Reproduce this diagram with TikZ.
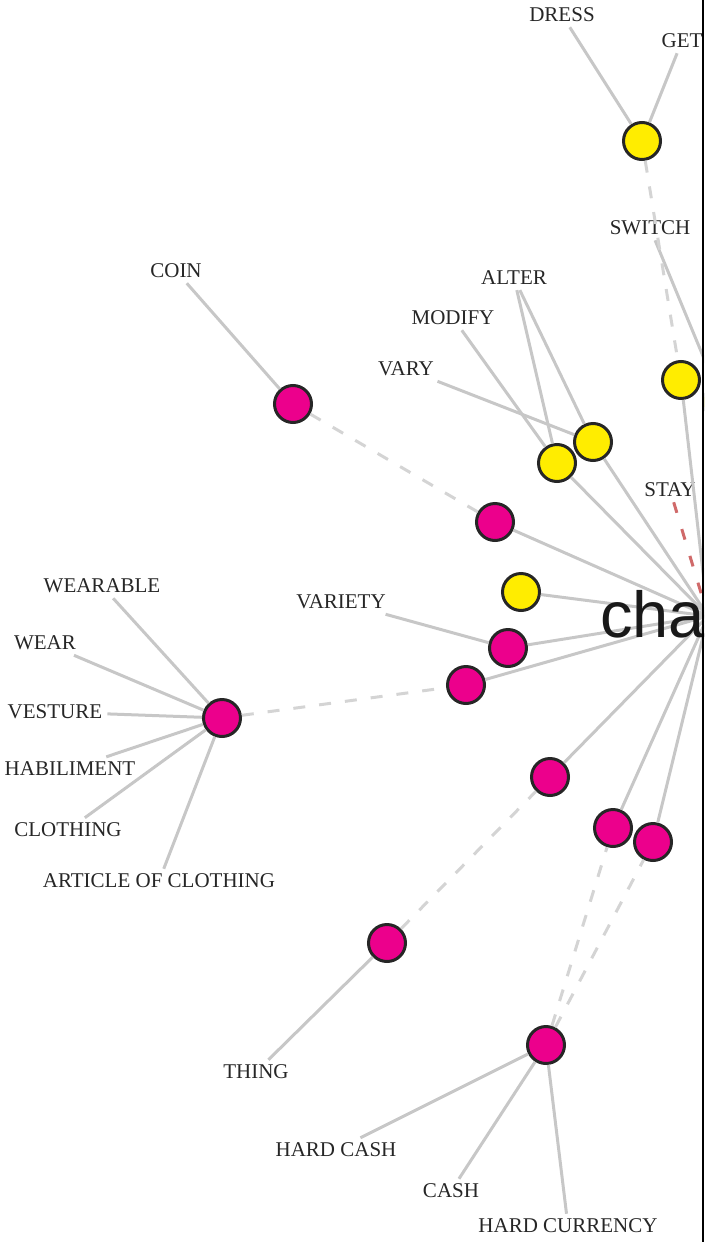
\documentclass[tikz,border=0pt]{standalone}
\usepackage{fontspec}
\setmainfont{Liberation Serif}
\newfontfamily\hubfont{Liberation Sans}
\definecolor{synyellow}{HTML}{FFED00}
\definecolor{synmagenta}{HTML}{EC008C}
\definecolor{antred}{HTML}{D06A6A}
\begin{document}
\begin{tikzpicture}[x=1pt, y=-1pt,
  word/.style={font=\fontsize{21}{21}\selectfont, text=black!85, inner sep=5pt},
  syn/.style={circle, draw=black!85, line width=3pt, minimum size=37pt, inner sep=0pt},
  yel/.style={syn, fill=synyellow},
  mag/.style={syn, fill=synmagenta},
  edge/.style={draw=black!22, line width=3pt},
  hyp/.style={draw=black!17, line width=3pt, dash pattern=on 12pt off 14pt},
  ant/.style={draw=antred, line width=3pt, dash pattern=on 11pt off 17pt}]
  \useasboundingbox (0,0) rectangle (704,1242);
  \clip (0,0) rectangle (704,1242);

  % words
  \node[word] (dress)   at (562,15)   {DRESS};
  \node[word] (get)     at (682,41)   {GET};
  \node[word] (switch)  at (650,228)  {SWITCH};
  \node[word] (coin)    at (176,271)  {COIN};
  \node[word] (alter)   at (514,278)  {ALTER};
  \node[word] (modify)  at (453,318)  {MODIFY};
  \node[word] (vary)    at (406,369)  {VARY};
  \node[word] (stay)    at (670,490)  {STAY};
  \node[word] (wearable) at (102,586) {WEARABLE};
  \node[word] (variety) at (341,602)  {VARIETY};
  \node[word] (wear)    at (45,643)   {WEAR};
  \node[word] (vesture) at (55,712)   {VESTURE};
  \node[word] (habil)   at (70,769)   {HABILIMENT};
  \node[word] (clothing) at (68,830)  {CLOTHING};
  \node[word] (article) at (159,881)  {ARTICLE OF CLOTHING};
  \node[word] (thing)   at (256,1072) {THING};
  \node[word] (hcash)   at (336,1150) {HARD CASH};
  \node[word] (cash)    at (451,1191) {CASH};
  \node[word] (hcurr)   at (568,1226) {HARD CURRENCY};

  % synsets
  \coordinate (H) at (708,616);
  \node[yel] (Y1) at (642,141) {};
  \node[yel] (Y2) at (681,380) {};
  \node[yel] (Y6) at (722,402) {};
  \node[yel] (Y3) at (557,463) {};
  \node[yel] (Y4) at (593,442) {};
  \node[yel] (Y5) at (521,592) {};
  \node[mag] (Mcoin)  at (293,404) {};
  \node[mag] (M1)     at (495,522) {};
  \node[mag] (Mvar)   at (508,648) {};
  \node[mag] (M2)     at (466,685) {};
  \node[mag] (Mcloth) at (222,718) {};
  \node[mag] (M3)     at (550,777) {};
  \node[mag] (M4)     at (613,828) {};
  \node[mag] (M5)     at (653,842) {};
  \node[mag] (Mthing) at (387,943) {};
  \node[mag] (Mcash)  at (546,1045) {};

  % hub edges
  \foreach \s in {Y2,Y6,Y3,Y4,Y5,M1,Mvar,M2,M3,M4,M5}
    \draw[edge] (\s) to (H);

  % word edges
  \draw[edge] (dress) to (Y1);
  \draw[edge] (get) to (Y1);
  \draw[edge] (switch) to (Y6);
  \draw[edge] (alter) to (Y3);
  \draw[edge] (alter) to (Y4);
  \draw[edge] (modify) to (Y3);
  \draw[edge] (vary) to (Y4);
  \draw[edge] (coin) to (Mcoin);
  \draw[edge] (variety) to (Mvar);
  \foreach \w in {wearable,wear,vesture,habil,clothing,article}
    \draw[edge] (\w) to (Mcloth);
  \draw[edge] (thing) to (Mthing);
  \draw[edge] (hcash) to (Mcash);
  \draw[edge] (cash) to (Mcash);
  \draw[edge] (hcurr) to (Mcash);

  % dashed links
  \draw[hyp] (Y1) to (Y2);
  \draw[hyp] (Mcoin) to (M1);
  \draw[hyp] (Mcloth) to (M2);
  \draw[hyp] (Mthing) to (M3);
  \draw[hyp] (Mcash) to (M4);
  \draw[hyp] (Mcash) to (M5);
  \draw[ant] (stay) to (H);

  \node[anchor=base west, inner sep=0pt, text=black!90,
        font=\hubfont\fontsize{65}{65}\selectfont] (chg) at (600,637) {cha};

  \draw[line width=2pt] (703,0) -- (703,1242);
\end{tikzpicture}
\end{document}
